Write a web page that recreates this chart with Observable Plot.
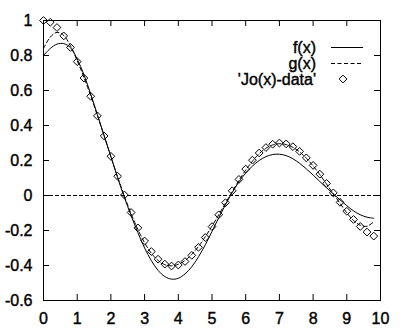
<!DOCTYPE html>
<html>
<head>
<meta charset="utf-8">
<script src="https://cdn.jsdelivr.net/npm/d3@7"></script>
<script src="https://cdn.jsdelivr.net/npm/@observablehq/plot@0.6"></script>
<style>
  body { margin: 0; background: #fff; }
  #chart { width: 411px; height: 334px; }
  #chart svg text { stroke: #000; stroke-width: 0.4px; }
</style>
</head>
<body>
<div id="chart"></div>
<script>
// x positions of the data points and the curve samples
const xs = [0, 0.2, 0.4, 0.6, 0.8, 1.0, 1.2, 1.4, 1.6, 1.8,
            2.0, 2.2, 2.4, 2.6, 2.8, 3.0, 3.2, 3.4, 3.6, 3.8,
            4.0, 4.2, 4.4, 4.6, 4.8, 5.0, 5.2, 5.4, 5.6, 5.8,
            6.0, 6.2, 6.4, 6.6, 6.8, 7.0, 7.2, 7.4, 7.6, 7.8,
            8.0, 8.2, 8.4, 8.6, 8.8, 9.0, 9.2, 9.4, 9.6, 9.8];

// 'Jo(x)-data' (diamonds)
const joData = [1.000, 0.990, 0.960, 0.912, 0.846, 0.765, 0.671, 0.567, 0.455, 0.340,
                0.224, 0.110, 0.003, -0.097, -0.185, -0.260, -0.320, -0.364, -0.392, -0.403,
                -0.397, -0.377, -0.342, -0.296, -0.240, -0.178, -0.110, -0.041, 0.027, 0.092,
                0.151, 0.202, 0.243, 0.274, 0.293, 0.300, 0.295, 0.279, 0.252, 0.215,
                0.172, 0.122, 0.069, 0.015, -0.039, -0.090, -0.137, -0.177, -0.209, -0.232];

// f(x) (solid)
const fVals = [0.800, 0.840, 0.865, 0.868, 0.845, 0.780, 0.690, 0.580, 0.462, 0.342,
               0.222, 0.102, -0.012, -0.115, -0.212, -0.300, -0.372, -0.428, -0.463, -0.478,
               -0.473, -0.448, -0.407, -0.350, -0.282, -0.205, -0.127, -0.053, 0.017, 0.078,
               0.128, 0.168, 0.200, 0.222, 0.234, 0.236, 0.228, 0.210, 0.184, 0.152,
               0.117, 0.080, 0.044, 0.009, -0.025, -0.058, -0.088, -0.110, -0.124, -0.130];

// g(x) (dashed)
const gVals = [0.840, 0.905, 0.932, 0.915, 0.855, 0.770, 0.675, 0.570, 0.456, 0.340,
               0.221, 0.106, -0.004, -0.104, -0.194, -0.270, -0.330, -0.371, -0.395, -0.402,
               -0.393, -0.371, -0.336, -0.291, -0.236, -0.175, -0.110, -0.044, 0.022, 0.086,
               0.145, 0.196, 0.239, 0.270, 0.289, 0.296, 0.291, 0.275, 0.249, 0.213,
               0.169, 0.119, 0.065, 0.010, -0.045, -0.099, -0.143, -0.170, -0.176, -0.150];

const xTicks = [0, 1, 2, 3, 4, 5, 6, 7, 8, 9, 10];
const yTicks = [-0.6, -0.4, -0.2, 0, 0.2, 0.4, 0.6, 0.8, 1];

const legendLabels = ["f(x)", "g(x)", "'Jo(x)-data'"];

const data = xs.map((x, i) => ({x, jo: joData[i], f: fVals[i], g: gVals[i]}));

const W = 411, H = 334;
const mL = 43, mR = 31, mT = 20, mB = 34;
const fw = W - mL - mR, fh = H - mT - mB;
const tl = 6;
const FONT = "'Liberation Sans', Arial, Helvetica, sans-serif";

const plot = Plot.plot({
  width: W,
  height: H,
  marginLeft: mL, marginRight: mR, marginTop: mT, marginBottom: mB,
  style: {fontFamily: FONT, fontSize: "16px", background: "#fff", color: "#000"},
  x: {domain: [0, 10]},
  y: {domain: [-0.6, 1]},
  marks: [
    Plot.ruleY([0], {stroke: "#000", strokeDasharray: "4,2"}),
    Plot.tickX(xTicks, {x: d => d, stroke: "#000", insetTop: fh - tl}),
    Plot.tickX(xTicks, {x: d => d, stroke: "#000", insetBottom: fh - tl}),
    Plot.tickY(yTicks, {y: d => d, stroke: "#000", insetRight: fw - tl}),
    Plot.tickY(yTicks, {y: d => d, stroke: "#000", insetLeft: fw - tl}),
    Plot.line(data, {x: "x", y: "f", stroke: "#000", strokeWidth: 1, curve: "catmull-rom"}),
    Plot.line(data, {x: "x", y: "g", stroke: "#000", strokeWidth: 1, strokeDasharray: "4,2.5", curve: "catmull-rom"}),
    Plot.dot(data, {x: "x", y: "jo", symbol: "diamond2", r: 3.5, stroke: "#000", fill: "none", strokeWidth: 1}),
    Plot.frame({stroke: "#000"}),
    Plot.axisX({ticks: xTicks, tickSize: 0, tickPadding: 12, tickFormat: d => String(d), fontSize: 16, label: null}),
    Plot.axisY({ticks: yTicks, tickSize: 0, tickPadding: 11, tickFormat: d => String(d), fontSize: 16, label: null})
  ]
});

document.getElementById("chart").appendChild(plot);

// key (top right, inside the frame)
const svg = d3.select(plot);
const key = svg.append("g").attr("font-family", FONT).attr("font-size", 16).attr("fill", "#000");
const rowY = [47, 63, 79];
const textX = 316, s0 = 331, s1 = 363;
legendLabels.forEach((lab, i) => {
  key.append("text").attr("x", textX).attr("y", rowY[i]).attr("dy", "0.35em")
     .attr("text-anchor", "end").text(lab);
});
key.append("line").attr("x1", s0).attr("x2", s1).attr("y1", rowY[0] + 0.5).attr("y2", rowY[0] + 0.5)
   .attr("stroke", "#000");
key.append("line").attr("x1", s0).attr("x2", s1).attr("y1", rowY[1] + 0.5).attr("y2", rowY[1] + 0.5)
   .attr("stroke", "#000").attr("stroke-dasharray", "4,2.5");
key.append("path").attr("transform", `translate(${(s0 + s1) / 2 - 4},${rowY[2]})`)
   .attr("d", d3.symbol(d3.symbolDiamond2, 3.5 * 3.5 * Math.PI)())
   .attr("fill", "none").attr("stroke", "#000");
</script>
</body>
</html>
